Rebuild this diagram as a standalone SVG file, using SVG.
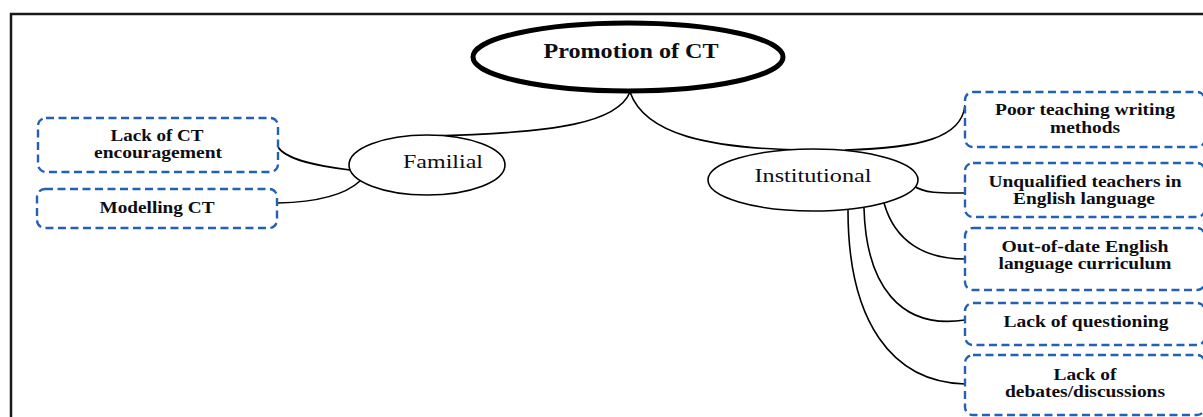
<svg xmlns="http://www.w3.org/2000/svg" width="1203" height="417" viewBox="0 0 1203 417">
<style>
.frame{fill:none;stroke:#1a1a1a;stroke-width:2.5}
.conn{fill:none;stroke:#000;stroke-width:1.6}
.main{fill:#fff;stroke:#000;stroke-width:5}
.sub{fill:#fff;stroke:#000;stroke-width:1.6}
.box{fill:#fff;stroke:#2461b5;stroke-width:2.4;stroke-dasharray:8 4.5}
text{font-family:"Liberation Serif","Times New Roman",serif;fill:#0d0d14;text-anchor:middle}
.t{font-size:16px;font-weight:bold}
.title{font-size:20px;font-weight:bold}
.lab{font-size:19px}
</style>
<rect class="frame" x="11" y="14" width="1200" height="420"/>
<g id="connectors">
<path class="conn" d="M630,92 C618,122 560,133 430,136"/>
<path class="conn" d="M630,92 C645,135 710,148 800,150"/>
<path class="conn" d="M845,150 C920,148 962,138 965,105"/>
<path class="conn" d="M278,147 C286,160 318,166 350,170"/>
<path class="conn" d="M278,203 C322,202 346,194 360,181"/>
<path class="conn" d="M914,186 C925,194 945,193 965,193"/>
<path class="conn" d="M884,203 C895,242 925,259 965,259"/>
<path class="conn" d="M864,208 C866,285 900,330 965,320"/>
<path class="conn" d="M848,210 C848,322 892,382 965,384"/>
</g>
<g id="node-promotion">
<ellipse class="main" cx="628" cy="57" rx="155" ry="34"/>
<text class="title" x="631" y="58" textLength="175" lengthAdjust="spacingAndGlyphs">Promotion of CT</text>
</g>
<g id="node-familial">
<ellipse class="sub" cx="427" cy="165" rx="78" ry="30"/>
<text class="lab" x="443" y="168" textLength="80" lengthAdjust="spacingAndGlyphs">Familial</text>
</g>
<g id="node-institutional">
<ellipse class="sub" cx="813" cy="180" rx="105" ry="31"/>
<text class="lab" x="813" y="182" textLength="117" lengthAdjust="spacingAndGlyphs">Institutional</text>
</g>
<g id="node-lack-ct-encouragement">
<rect class="box" x="38" y="118" width="240" height="54" rx="8"/>
<text class="t" x="157" y="141" textLength="93" lengthAdjust="spacingAndGlyphs">Lack of CT</text>
<text class="t" x="158" y="158" textLength="128" lengthAdjust="spacingAndGlyphs">encouragement</text>
</g>
<g id="node-modelling-ct">
<rect class="box" x="37" y="189" width="240" height="39" rx="8"/>
<text class="t" x="157" y="213" textLength="115" lengthAdjust="spacingAndGlyphs">Modelling CT</text>
</g>
<g id="node-poor-teaching">
<rect class="box" x="965" y="92" width="240" height="55" rx="8"/>
<text class="t" x="1085" y="115" textLength="180" lengthAdjust="spacingAndGlyphs">Poor teaching writing</text>
<text class="t" x="1085" y="133" textLength="70" lengthAdjust="spacingAndGlyphs">methods</text>
</g>
<g id="node-unqualified">
<rect class="box" x="965" y="163" width="240" height="54" rx="8"/>
<text class="t" x="1085" y="187" textLength="193" lengthAdjust="spacingAndGlyphs">Unqualified teachers in</text>
<text class="t" x="1084" y="204" textLength="142" lengthAdjust="spacingAndGlyphs">English language</text>
</g>
<g id="node-out-of-date">
<rect class="box" x="965" y="228" width="240" height="62" rx="8"/>
<text class="t" x="1085" y="252" textLength="167" lengthAdjust="spacingAndGlyphs">Out-of-date English</text>
<text class="t" x="1085" y="269" textLength="173" lengthAdjust="spacingAndGlyphs">language curriculum</text>
</g>
<g id="node-lack-questioning">
<rect class="box" x="965" y="303" width="240" height="42" rx="8"/>
<text class="t" x="1086" y="327" textLength="165" lengthAdjust="spacingAndGlyphs">Lack of questioning</text>
</g>
<g id="node-lack-debates">
<rect class="box" x="965" y="355" width="240" height="60" rx="8"/>
<text class="t" x="1085" y="380" textLength="63" lengthAdjust="spacingAndGlyphs">Lack of</text>
<text class="t" x="1085" y="397" textLength="160" lengthAdjust="spacingAndGlyphs">debates/discussions</text>
</g>
</svg>
